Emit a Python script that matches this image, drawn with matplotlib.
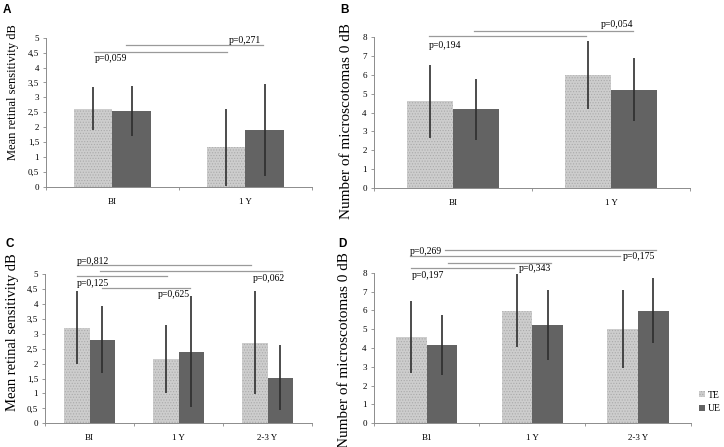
import numpy as np
import matplotlib
matplotlib.use("Agg")
import matplotlib.pyplot as plt
from matplotlib.patches import Patch

plt.rcParams["font.family"] = ["Liberation Serif", "DejaVu Serif"]
plt.rcParams["hatch.linewidth"] = 0.5

# categories
CATS_AB = ["BI", "1 Y"]
CATS_C = ["BI", "1 Y", "2-3 Y"]
CATS_D = ["B1", "1 Y", "2-3 Y"]

# A: mean retinal sensitivity (dB), BI vs 1 Y
A_TE = [2.62, 1.32]
A_TE_SD = [0.71, 1.30]
A_UE = [2.54, 1.90]
A_UE_SD = [0.83, 1.55]

# B: number of microscotomas 0 dB, BI vs 1 Y
B_TE = [4.59, 5.97]
B_TE_SD = [1.91, 1.78]
B_UE = [4.17, 5.20]
B_UE_SD = [1.60, 1.67]

# C: mean retinal sensitivity (dB), BI / 1 Y / 2-3 Y
C_TE = [3.20, 2.15, 2.70]
C_TE_SD = [1.23, 1.13, 1.73]
C_UE = [2.80, 2.40, 1.53]
C_UE_SD = [1.13, 1.86, 1.09]

# D: number of microscotomas 0 dB, B1 / 1 Y / 2-3 Y
D_TE = [4.58, 5.98, 5.00]
D_TE_SD = [1.93, 1.95, 2.08]
D_UE = [4.17, 5.21, 5.98]
D_UE_SD = [1.61, 1.86, 1.74]

# p-values of the comparison brackets
P_A = ["p=0,059", "p=0,271"]
P_B = ["p=0,194", "p=0,054"]
P_C = ["p=0,812", "p=0,062", "p=0,125", "p=0,625"]
P_D = ["p=0,269", "p=0,175", "p=0,343", "p=0,197"]

TE_COL = "#cdcdcd"
UE_COL = "#636363"
LINE_COL = "#9a9a9a"
W = 0.29


def _fmt(v):
    s = f"{v:g}"
    return s.replace(".", ",")


def panel(ax, cats, te, te_sd, ue, ue_sd, ymax, ystep):
    x = np.arange(len(cats))
    ax.bar(x - W / 2, te, W, color=TE_COL, hatch="......", edgecolor="#aaaaaa", linewidth=0)
    ax.bar(x + W / 2, ue, W, color=UE_COL, linewidth=0)
    ax.errorbar(x - W / 2, te, yerr=te_sd, fmt="none", ecolor="#2e2e2e", elinewidth=1.2, capsize=0)
    ax.errorbar(x + W / 2, ue, yerr=ue_sd, fmt="none", ecolor="#2e2e2e", elinewidth=1.2, capsize=0)
    ax.set_xlim(-0.5, len(cats) - 0.5); ax.set_ylim(0, ymax)
    yt = np.arange(0, ymax + ystep / 2, ystep)
    ax.set_yticks(yt); ax.set_yticklabels([_fmt(v) for v in yt], fontsize=6.5)
    ax.set_xticks(x); ax.set_xticklabels(cats, fontsize=6.5)
    ax.set_xticks(np.arange(-0.5, len(cats), 1.0), minor=True)
    ax.tick_params(axis="x", which="major", length=0, pad=8)
    ax.tick_params(axis="x", which="minor", length=2.5, color="#888888", width=0.6)
    ax.tick_params(axis="y", length=2, color="#888888", width=0.6, pad=3)
    for s in ["top", "right"]:
        ax.spines[s].set_visible(False)
    for s in ["left", "bottom"]:
        ax.spines[s].set_color("#8c8c8c"); ax.spines[s].set_linewidth(0.7)


def bracket(ax, x0, x1, y):
    ax.plot([x0, x1], [y, y], color=LINE_COL, lw=0.9, clip_on=False)


def ptext(ax, s, x, y, ha="left"):
    ax.text(x, y, s, ha=ha, va="center", fontsize=7, clip_on=False)


fig = plt.figure(figsize=(7.24, 4.47), dpi=100)
axA = fig.add_axes([0.0635, 0.5823, 0.3674, 0.3333])
axB = fig.add_axes([0.5162, 0.5787, 0.4372, 0.3392])
axC = fig.add_axes([0.0622, 0.0530, 0.3688, 0.3340])
axD = fig.add_axes([0.5162, 0.0530, 0.4378, 0.3369])

panel(axA, CATS_AB, A_TE, A_TE_SD, A_UE, A_UE_SD, 5, 0.5)
bracket(axA, -0.137, 0.863, 4.53); ptext(axA, P_A[0], -0.135, 4.31)
bracket(axA, 0.099, 1.129, 4.755); ptext(axA, P_A[1], 1.12, 4.92, ha="right")

panel(axB, CATS_AB, B_TE, B_TE_SD, B_UE, B_UE_SD, 8, 1)
bracket(axB, -0.15, 0.842, 8.02); ptext(axB, P_B[0], -0.152, 7.51)
bracket(axB, 0.133, 1.139, 8.30); ptext(axB, P_B[1], 1.143, 8.63, ha="right")

panel(axC, CATS_C, C_TE, C_TE_SD, C_UE, C_UE_SD, 5, 0.5)
bracket(axC, -0.144, 1.81, 5.29); ptext(axC, P_C[0], -0.144, 5.43)
bracket(axC, 0.118, 2.16, 5.11); ptext(axC, P_C[1], 2.197, 4.85, ha="right")
bracket(axC, -0.144, 0.867, 4.95); ptext(axC, P_C[2], -0.144, 4.69)
bracket(axC, 0.137, 1.129, 4.52); ptext(axC, P_C[3], 1.129, 4.30, ha="right")

panel(axD, CATS_D, D_TE, D_TE_SD, D_UE, D_UE_SD, 8, 1)
bracket(axD, 0.175, 2.171, 9.23); ptext(axD, P_D[0], -0.159, 9.12)
bracket(axD, -0.159, 1.83, 8.88); ptext(axD, P_D[1], 1.862, 8.88)
bracket(axD, 0.203, 1.178, 8.50)
bracket(axD, -0.144, 0.83, 8.24); ptext(axD, P_D[2], 0.872, 8.22)
ptext(axD, P_D[3], -0.137, 7.86)

# y labels
fig.text(13 / 724, 1 - 92 / 447, "Mean retinal sensitivity dB", rotation=90, ha="center", va="center", fontsize=9)
fig.text(346 / 724, 1 - 121 / 447, "Number of microscotomas 0 dB", rotation=90, ha="center", va="center", fontsize=11)
fig.text(13 / 724, 1 - 332 / 447, "Mean retinal sensitivity dB", rotation=90, ha="center", va="center", fontsize=10.5)
fig.text(345 / 724, 1 - 350 / 447, "Number of microscotomas 0 dB", rotation=90, ha="center", va="center", fontsize=11)

# panel letters
for s, (px, py) in zip("ABCD", [(3, 4), (340, 4), (5, 238), (338, 238)]):
    fig.text(px / 724, 1 - py / 447, s, ha="left", va="top", fontsize=8.5, fontweight="bold",
             family="Liberation Sans")

handles = [Patch(facecolor=TE_COL, hatch="......", edgecolor="#aaaaaa", linewidth=0, label="TE"),
           Patch(facecolor=UE_COL, linewidth=0, label="UE")]
fig.legend(handles=handles, loc="center left", bbox_to_anchor=(699 / 724, 1 - 402 / 447),
           frameon=False, fontsize=7, handlelength=0.6, handleheight=0.6,
           handletextpad=0.3, labelspacing=0.5, borderpad=0, borderaxespad=0)

fig.savefig("out.png", dpi=100)
